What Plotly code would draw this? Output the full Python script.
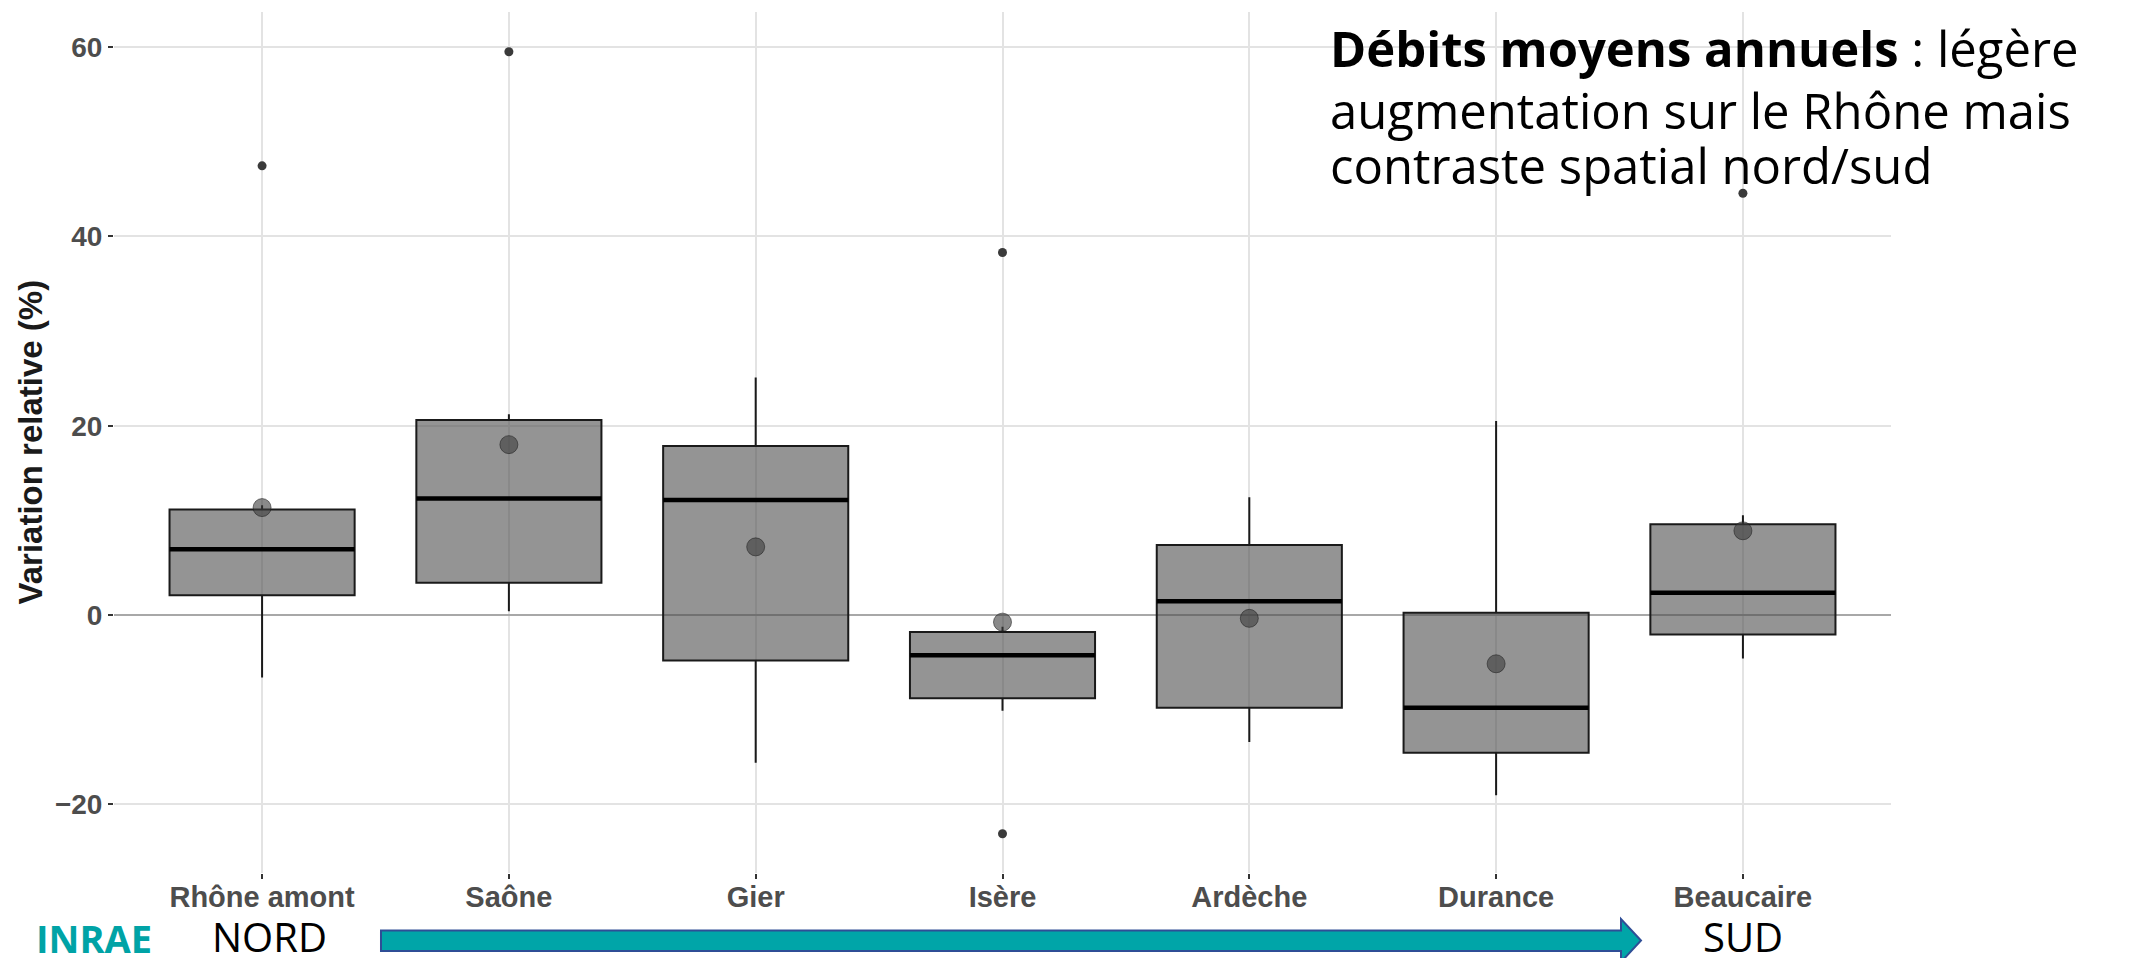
import plotly.graph_objects as go

# --- data -----------------------------------------------------------------
stations = ["Rhône amont", "Saône", "Gier", "Isère", "Ardèche", "Durance", "Beaucaire"]
q1 = [2.1, 3.4, -4.8, -8.8, -9.8, -14.55, -2.05]
median = [6.95, 12.3, 12.15, -4.25, 1.45, -9.8, 2.35]
q3 = [11.15, 20.6, 17.85, -1.8, 7.4, 0.25, 9.6]
whisker_low = [-6.6, 0.4, -15.6, -10.1, -13.4, -19.05, -4.6]
whisker_high = [11.6, 21.2, 25.1, -1.25, 12.45, 20.5, 10.55]
means = [11.35, 18.0, 7.2, -0.75, -0.35, -5.15, 8.9]
outlier_station = [0, 1, 3, 3, 6]
outlier_value = [47.45, 59.5, 38.3, -23.1, 44.55]
y_ticks = [-20, 0, 20, 40, 60]

# --- page geometry ----------------------------------------------------------
W, H = 2136, 958
ML, MR, MT, MB = 114, 245, 12, 85
PW, PH = W - ML - MR, H - MT - MB
BOX_W = 0.75


def px_x(px):
    return (px - ML) / PW


def px_y(py):
    return (H - MB - py) / PH


idx = list(range(len(stations)))

fig = go.Figure()

fig.add_trace(go.Box(
    x=idx, q1=q1, median=median, q3=q3,
    lowerfence=whisker_low, upperfence=whisker_high,
    width=BOX_W, whiskerwidth=0, boxpoints=False,
    fillcolor="rgba(77,77,77,0.6)",
    line=dict(color="#1a1a1a", width=2),
    hoverinfo="skip", showlegend=False,
))

# thicker median bars
mx, my = [], []
for i, m in zip(idx, median):
    mx += [i - BOX_W / 2, i + BOX_W / 2, None]
    my += [m, m, None]
fig.add_trace(go.Scatter(
    x=mx, y=my, mode="lines",
    line=dict(color="#000000", width=4.5),
    hoverinfo="skip", showlegend=False,
))

# mean values
fig.add_trace(go.Scatter(
    x=idx, y=means, mode="markers",
    marker=dict(size=18, color="rgba(60,60,60,0.6)",
                line=dict(color="rgba(30,30,30,0.55)", width=1)),
    hoverinfo="skip", showlegend=False,
))

# outliers
fig.add_trace(go.Scatter(
    x=outlier_station, y=outlier_value, mode="markers",
    marker=dict(size=9, color="#3a3a3a"),
    hoverinfo="skip", showlegend=False,
))

axis_font = dict(family="Liberation Sans, Arial, sans-serif", color="#4D4D4D", weight="bold")

fig.update_xaxes(
    range=[-0.6, len(stations) - 0.4],
    tickvals=idx, ticktext=stations,
    showgrid=True, gridcolor="#E3E3E3", gridwidth=2,
    zeroline=False, showline=False,
    ticks="outside", ticklen=5, tickwidth=1.5, tickcolor="#333333",
    ticklabelstandoff=-7,
    tickfont=dict(size=29, **axis_font),
)
fig.update_yaxes(
    range=[-27.25, 63.7],
    tickvals=y_ticks,
    showgrid=True, gridcolor="#E3E3E3", gridwidth=2,
    zeroline=True, zerolinecolor="#A8A8A8", zerolinewidth=2,
    showline=False,
    ticks="outside", ticklen=5, tickwidth=1.5, tickcolor="#333333",
    tickfont=dict(size=28, **axis_font),
)

annotations = [
    dict(text="<b>Variation relative (%)</b>", textangle=-90,
         x=px_x(30), y=0.5, xanchor="center", yanchor="middle",
         font=dict(family="Liberation Sans, Arial, sans-serif", size=33, color="#1a1a1a")),
]

title_font = dict(family="Open Sans, sans-serif", size=49, color="#000000")
title_lines = [
    "<b>Débits moyens annuels</b> : légère",
    "augmentation sur le Rhône mais",
    "contraste spatial nord/sud",
]
title_rows = [48, 110, 165]
for line, row in zip(title_lines, title_rows):
    annotations.append(dict(
        text=line, x=px_x(1328), y=px_y(row),
        xanchor="left", yanchor="middle", font=title_font,
    ))

label_font = dict(family="Open Sans, sans-serif", size=40, color="#000000")
annotations.append(dict(text="NORD", x=px_x(269), y=px_y(936),
                        xanchor="center", yanchor="middle", font=label_font))
annotations.append(dict(text="SUD", x=px_x(1743), y=px_y(936),
                        xanchor="center", yanchor="middle", font=label_font))
annotations.append(dict(text="<b>INRAE</b>", x=px_x(34), y=px_y(938),
                        xanchor="left", yanchor="middle",
                        font=dict(family="Liberation Sans Narrow, Open Sans, sans-serif",
                                  size=38, color="#00A3A6")))
for a in annotations:
    a.update(xref="paper", yref="paper", showarrow=False)

# north -> south arrow
pts = [(381, 930.5), (1621, 930.5), (1621, 919), (1641, 940.5),
       (1621, 962), (1621, 951), (381, 951)]
path = "M " + " L ".join(f"{px_x(a):.5f},{px_y(b):.5f}" for a, b in pts) + " Z"
shapes = [dict(type="path", xref="paper", yref="paper", path=path,
               fillcolor="#00A5A8", line=dict(color="#2F4E96", width=2), layer="above")]

fig.update_layout(
    width=W, height=H,
    margin=dict(l=ML, r=MR, t=MT, b=MB),
    paper_bgcolor="white", plot_bgcolor="white",
    annotations=annotations, shapes=shapes,
    showlegend=False,
)

fig.write_html("out.html")
